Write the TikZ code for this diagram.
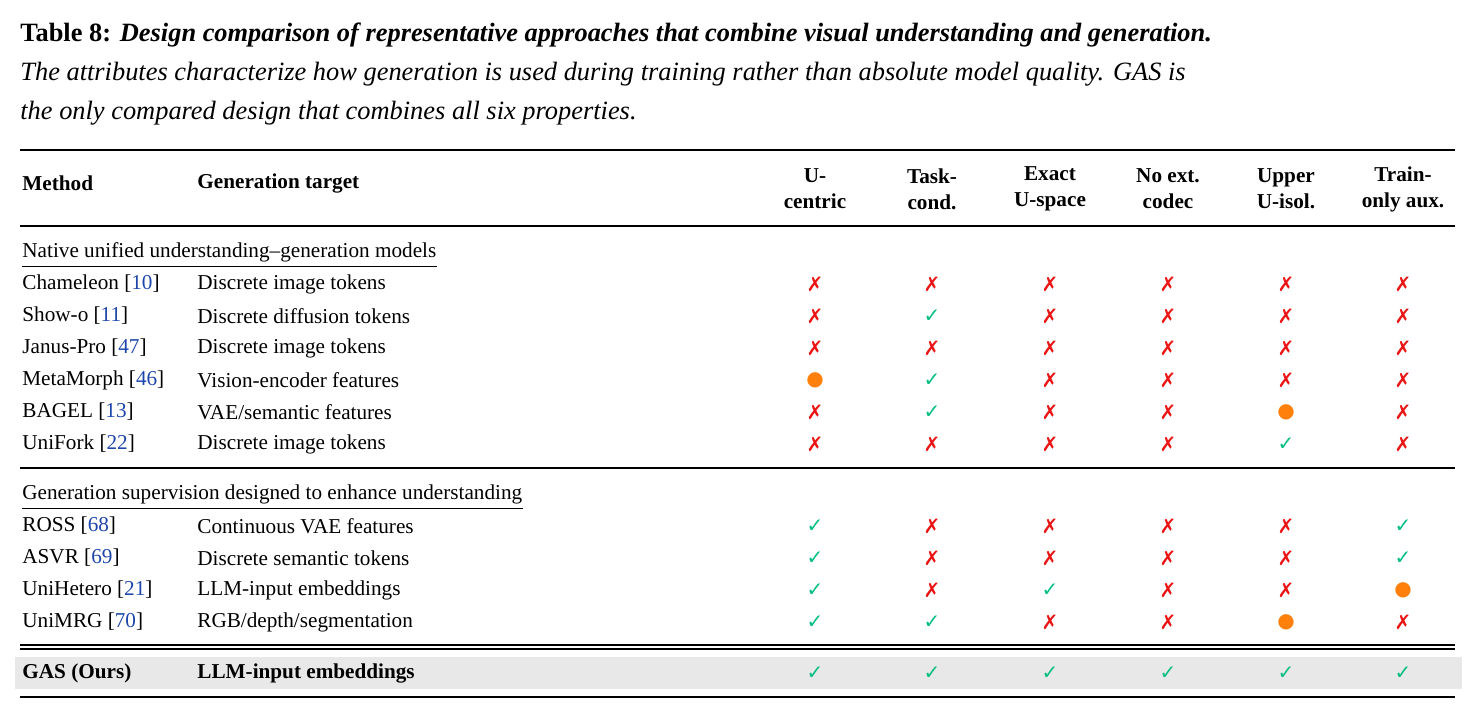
\documentclass[tikz,border=0pt]{standalone}
\usepackage{fontspec}
\setmainfont{Liberation Serif}
\newfontfamily\symf{DejaVu Sans}
\definecolor{cg}{RGB}{0,190,130}
\definecolor{cr}{RGB}{235,20,20}
\definecolor{co}{RGB}{255,128,10}
\definecolor{cb}{RGB}{30,70,170}
\definecolor{band}{RGB}{232,232,232}
\newcommand{\mkY}{{\symf\color{cg}✓}}
\newcommand{\mkN}{{\symf\color{cr}✗}}
\newcommand{\mkP}{{\symf\color{co}●}}
\newcommand{\rf}[1]{{\color{cb}#1}}
\begin{document}
\begin{tikzpicture}[x=0.5pt,y=-0.5pt,
  captxt/.style={anchor=base west,inner sep=0,font=\fontsize{13.2}{15}\selectfont},
  txt/.style={anchor=west,inner sep=0,font=\fontsize{10.6}{12}\selectfont},
  hd/.style={anchor=center,inner sep=0,align=center,font=\fontsize{10.6}{13}\selectfont\bfseries},
  mk/.style={anchor=center,inner sep=0,font=\fontsize{10}{12}\selectfont}]
\useasboundingbox (0,0) rectangle (1479,717);
\node[captxt] (c1) at (20,42) {\textbf{Table 8:} \textbf{\itshape Design comparison of representative approaches that combine visual understanding and generation.}};
\node[captxt] (c2) at (20,81) {\itshape The attributes characterize how generation is used during training rather than absolute model quality. GAS is};
\node[captxt] (c3) at (20,120) {\itshape the only compared design that combines all six properties.};
\fill[band] (15,657) rectangle (1462,689);
\draw[line width=1.4pt] (20,150) -- (1455,150);
\draw[line width=0.6pt] (20,226) -- (1455,226);
\draw[line width=0.6pt] (20,468) -- (1455,468);
\draw[line width=0.6pt] (20,645) -- (1455,645);
\draw[line width=0.6pt] (20,649) -- (1455,649);
\draw[line width=1.4pt] (20,697) -- (1455,697);
\node[hd,anchor=west] (hm) at (22,183) {Method};
\node[hd,anchor=west] (hg) at (197,183) {Generation target};
\foreach \x/\t [count=\i] in {815/{U-\\centric},932/{Task-\\cond.},1050/{Exact\\U-space},1168/{No ext.\\codec},1286/{Upper\\U-isol.},1403/{Train-\\only aux.}}
  \node[hd] (h\i) at (\x,189) {\t};
\node[txt] (s1) at (22,252) {Native unified understanding–generation models};
\draw[line width=0.5pt] ([yshift=-2pt]s1.south west) -- ([yshift=-2pt]s1.south east);
\node[txt] (s2) at (22,494) {Generation supervision designed to enhance understanding};
\draw[line width=0.5pt] ([yshift=-2pt]s2.south west) -- ([yshift=-2pt]s2.south east);
\foreach \y/\m/\g/\a/\b/\c/\d/\e/\f [count=\r] in {
 284/{Chameleon [\rf{10}]}/{Discrete image tokens}/\mkN/\mkN/\mkN/\mkN/\mkN/\mkN,
 316/{Show-o [\rf{11}]}/{Discrete diffusion tokens}/\mkN/\mkY/\mkN/\mkN/\mkN/\mkN,
 348/{Janus-Pro [\rf{47}]}/{Discrete image tokens}/\mkN/\mkN/\mkN/\mkN/\mkN/\mkN,
 380/{MetaMorph [\rf{46}]}/{Vision-encoder features}/\mkP/\mkY/\mkN/\mkN/\mkN/\mkN,
 412/{BAGEL [\rf{13}]}/{VAE/semantic features}/\mkN/\mkY/\mkN/\mkN/\mkP/\mkN,
 444/{UniFork [\rf{22}]}/{Discrete image tokens}/\mkN/\mkN/\mkN/\mkN/\mkY/\mkN,
 526/{ROSS [\rf{68}]}/{Continuous VAE features}/\mkY/\mkN/\mkN/\mkN/\mkN/\mkY,
 558/{ASVR [\rf{69}]}/{Discrete semantic tokens}/\mkY/\mkN/\mkN/\mkN/\mkN/\mkY,
 590/{UniHetero [\rf{21}]}/{LLM-input embeddings}/\mkY/\mkN/\mkY/\mkN/\mkN/\mkP,
 622/{UniMRG [\rf{70}]}/{RGB/depth/segmentation}/\mkY/\mkY/\mkN/\mkN/\mkP/\mkN,
 673/{\textbf{GAS (Ours)}}/{\textbf{LLM-input embeddings}}/\mkY/\mkY/\mkY/\mkY/\mkY/\mkY}{
  \node[txt] (m\r) at (22,\y) {\m};
  \node[txt] (g\r) at (197,\y) {\g};
  \node[mk] (a\r) at (815,\y) {\a};
  \node[mk] (b\r) at (932,\y) {\b};
  \node[mk] (c\r) at (1050,\y) {\c};
  \node[mk] (d\r) at (1168,\y) {\d};
  \node[mk] (e\r) at (1286,\y) {\e};
  \node[mk] (f\r) at (1403,\y) {\f};
}
\end{tikzpicture}
\end{document}
